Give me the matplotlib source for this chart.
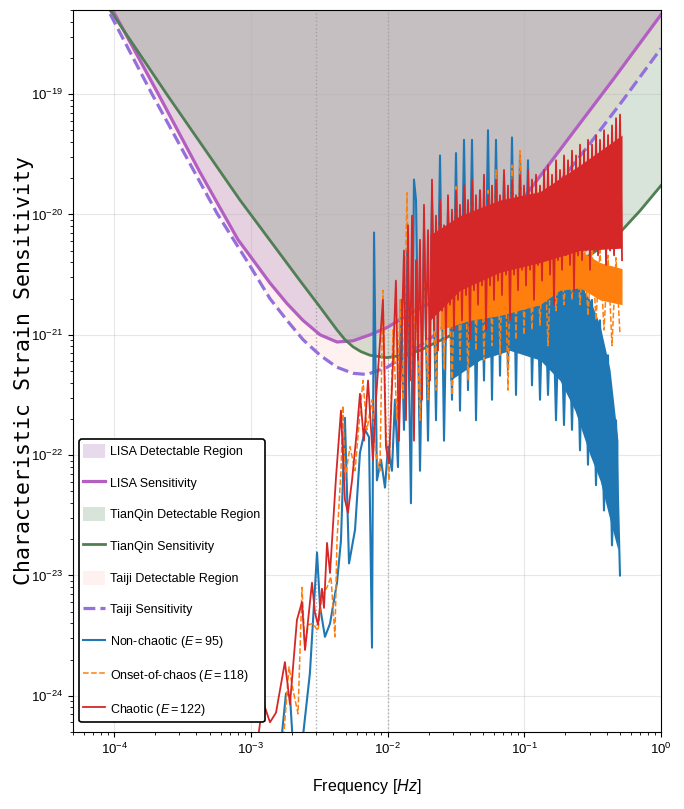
import numpy as np
import matplotlib
matplotlib.use('Agg')
import matplotlib.pyplot as plt
from matplotlib.ticker import NullFormatter

plt.rcParams['font.family'] = ['Liberation Sans', 'DejaVu Sans']
plt.rcParams['mathtext.fontset'] = 'custom'
plt.rcParams['mathtext.rm'] = 'Liberation Sans'
plt.rcParams['mathtext.it'] = 'Liberation Sans:italic'
plt.rcParams['mathtext.bf'] = 'Liberation Sans:bold'

# detector sensitivity curves (log10 f [Hz], log10 h_c)
lisa_logf = [-4.301, -4.012, -3.672, -3.372, -3.094, -2.970, -2.860, -2.736, -2.619, -2.494,
             -2.370, -2.253, -2.128, -2.004, -1.887, -1.763, -1.638, -1.470, -1.287, -1.105,
             -0.936, -0.644, -0.351, 0.0]
lisa_logh = [-17.65, -18.30, -19.01, -19.65, -20.21, -20.40, -20.57, -20.74, -20.88, -21.00,
             -21.06, -21.05, -21.00, -20.94, -20.86, -20.78, -20.71, -20.53, -20.30, -20.01,
             -19.76, -19.32, -18.88, -18.34]

tianqin_logf = [-4.301, -4.031, -3.616, -3.080, -2.641, -2.494, -2.370, -2.312, -2.253, -2.195,
                -2.129, -2.070, -2.004, -1.887, -1.763, -1.639, -1.397, -1.178, -0.936, -0.666,
                -0.446, -0.300, -0.154, 0.0]
tianqin_logh = [-17.84, -18.30, -19.00, -19.88, -20.55, -20.77, -20.96, -21.04, -21.10, -21.14,
                -21.17, -21.18, -21.19, -21.17, -21.13, -21.06, -20.93, -20.80, -20.63, -20.45,
                -20.28, -20.15, -19.97, -19.76]

taiji_logf = [-4.301, -4.045, -3.723, -3.248, -3.021, -2.860, -2.736, -2.619, -2.494, -2.370,
              -2.253, -2.151, -2.004, -1.887, -1.763, -1.639, -1.287, -0.936, -0.519, -0.278, 0.0]
taiji_logh = [-17.75, -18.30, -19.00, -19.99, -20.40, -20.70, -20.88, -21.04, -21.17, -21.27,
              -21.32, -21.33, -21.27, -21.19, -21.09, -20.99, -20.56, -20.01, -19.41, -19.05, -18.62]

# characteristic strain of the three orbits: sparse low-frequency part
blue_logf = [-2.772, -2.743, -2.714, -2.692, -2.626, -2.568, -2.516, -2.494, -2.458, -2.421,
             -2.370, -2.341, -2.312, -2.282, -2.238, -2.202, -2.165, -2.136, -2.114, -2.099,
             -2.078, -2.048, -2.019, -1.997, -1.968, -1.946, -1.924, -1.902, -1.880, -1.858,
             -1.829, -1.807]
blue_logh = [-24.31, -23.98, -24.00, -24.41, -24.41, -23.81, -22.81, -23.26, -23.51, -23.40,
             -23.06, -22.71, -21.69, -22.90, -22.62, -21.98, -21.79, -21.85, -23.60, -20.15,
             -22.21, -22.04, -22.27, -21.93, -22.13, -21.54, -22.10, -20.71, -21.79, -20.30,
             -22.40, -19.71]

orange_logf = [-2.765, -2.721, -2.692, -2.655, -2.626, -2.604, -2.582, -2.546, -2.509, -2.480,
               -2.443, -2.414, -2.385, -2.370, -2.341, -2.326, -2.312, -2.275, -2.238, -2.202,
               -2.180, -2.151, -2.114, -2.085, -2.056, -2.034, -2.012, -1.990, -1.960, -1.931,
               -1.909, -1.887, -1.858, -1.836]
orange_logh = [-24.41, -23.76, -23.95, -24.15, -23.10, -23.62, -23.41, -23.40, -23.46, -23.16,
               -23.10, -23.01, -23.51, -22.71, -22.13, -21.59, -22.21, -21.93, -22.13, -21.65,
               -21.38, -21.79, -21.54, -22.00, -22.13, -20.63, -21.79, -22.21, -20.96, -21.71,
               -20.71, -21.54, -19.82, -21.38]

red_logf = [-2.955, -2.911, -2.860, -2.816, -2.751, -2.714, -2.663, -2.626, -2.604, -2.553,
            -2.531, -2.509, -2.480, -2.465, -2.443, -2.421, -2.377, -2.341, -2.312, -2.290,
            -2.260, -2.224, -2.202, -2.173, -2.143, -2.107, -2.085, -2.034, -2.012, -1.990,
            -1.960, -1.939, -1.917, -1.895]
red_logh = [-24.41, -24.05, -24.22, -24.14, -23.72, -24.07, -23.37, -23.22, -23.62, -23.06,
            -23.31, -23.41, -23.11, -23.27, -22.73, -22.98, -22.18, -21.63, -22.37, -22.48,
            -22.21, -21.79, -21.49, -21.88, -21.38, -22.04, -21.54, -20.71, -21.93, -22.07,
            -21.21, -20.55, -21.88, -20.96]

# dense high-frequency part, on evenly spaced log-frequency bins
blue_dense_range = (-1.792, -0.300)
blue_dense_logh = [-19.88, -22.13, -20.13, -21.88, -19.88, -21.71, -19.51, -21.88, -19.96, -21.54,
                   -19.49, -21.63, -19.38, -21.46, -19.38, -21.71, -19.80, -21.38, -19.30, -21.54,
                   -19.38, -21.34, -19.67, -21.29, -19.36, -21.50, -19.51, -21.09, -19.55, -21.42,
                   -20.13, -21.54, -20.30, -21.50, -20.38, -21.71, -20.46, -21.75, -20.45, -21.79,
                   -20.48, -21.96, -20.55, -22.08, -20.71, -22.25, -20.88, -22.46, -21.17, -22.75,
                   -21.71, -23.00]
orange_dense_range = (-1.792, -0.300)
orange_dense_logh = [-20.71, -21.71, -20.38, -21.54, -20.13, -21.46, -19.88, -21.29, -20.01, -21.50,
                     -19.76, -21.21, -19.96, -21.38, -19.71, -21.13, -19.88, -21.21, -19.80, -21.09,
                     -19.63, -21.17, -19.92, -21.46, -19.59, -21.04, -19.47, -21.00, -20.01, -20.96,
                     -20.09, -20.92, -20.13, -21.09, -20.17, -20.80, -20.20, -20.75, -20.21, -20.71,
                     -20.20, -20.75, -20.21, -20.84, -20.26, -20.88, -20.30, -20.96, -20.34, -21.09,
                     -20.36, -21.00]
# chaotic orbit: bin-by-bin peaks and troughs (they alternate)
red_dense_range = (-1.880, -0.285)
red_dense_peaks = [-20.30, -20.09, -20.01, -20.38, -20.21, -19.92, -20.13, -19.71, -20.01, -19.88,
                   -20.09, -19.84, -19.96, -19.80, -19.92, -19.76, -19.88, -19.71, -19.84, -19.80,
                   -19.67, -19.84, -19.76, -19.71, -19.84, -19.63, -19.76, -19.71, -19.84, -19.67,
                   -19.76, -19.63, -19.71, -19.67, -19.76, -19.63, -19.59, -19.67, -19.55, -19.63,
                   -19.51, -19.55, -19.47, -19.51, -19.42, -19.47, -19.38, -19.42, -19.34, -19.38,
                   -19.30, -19.34, -19.26, -19.20, -19.17]
red_dense_troughs = [-21.71, -21.38, -21.88, -21.21, -21.54, -21.04, -21.38, -20.96, -21.13, -20.80,
                     -21.04, -20.75, -20.96, -20.71, -20.88, -20.67, -21.04, -20.63, -20.75, -20.59,
                     -20.96, -20.59, -20.71, -20.55, -20.67, -20.50, -20.88, -20.50, -20.63, -20.46,
                     -20.59, -20.46, -20.71, -20.42, -20.55, -20.38, -20.50, -20.75, -20.38, -20.46,
                     -20.34, -20.42, -20.63, -20.34, -20.38, -20.30, -20.46, -20.30, -20.34, -20.26,
                     -20.42, -20.30, -20.34, -20.26, -20.38]

# solid core of the dense spectra (lower / upper envelope)
blue_band_logf = [-1.544, -1.324, -1.105, -0.885, -0.739, -0.629, -0.519, -0.446, -0.373, -0.315]
blue_band_hi = [-20.88, -20.71, -20.63, -20.59, -20.55, -20.53, -20.71, -20.92, -21.29, -21.88]
blue_band_lo = [-21.38, -21.21, -21.13, -21.21, -21.38, -21.63, -22.00, -22.21, -22.54, -22.79]
orange_band_logf = [-1.617, -1.397, -1.178, -0.885, -0.739, -0.593, -0.446, -0.285]
orange_band_hi = [-20.71, -20.46, -20.34, -20.30, -20.30, -20.30, -20.40, -20.45]
orange_band_lo = [-20.96, -20.88, -20.84, -20.75, -20.63, -20.61, -20.71, -20.75]
red_band_logf = [-1.690, -1.470, -1.178, -0.885, -0.593, -0.285]
red_band_hi = [-20.17, -20.01, -19.88, -19.81, -19.59, -19.34]
red_band_lo = [-20.88, -20.63, -20.48, -20.40, -20.30, -20.28]

marker_freqs = [3e-3, 1e-2]
x_ticks = [1e-4, 1e-3, 1e-2, 1e-1, 1e0]
y_ticks = [1e-24, 1e-23, 1e-22, 1e-21, 1e-20, 1e-19]


def to_lin(a):
    return 10.0 ** np.asarray(a)


def spectrum(logf, logh, rng, dense):
    f = np.concatenate([to_lin(logf), np.logspace(rng[0], rng[1], len(dense))])
    h = np.concatenate([to_lin(logh), to_lin(dense)])
    return f, h


fig = plt.figure(figsize=(6.84, 8.09), dpi=100)
ax = fig.add_axes([73 / 684, 1 - 732 / 809, 588 / 684, 722 / 809])

top = 1e-17
lisa_col, tq_col, tj_col = '#b35fc2', '#4f7f52', '#9370db'

h_tj_fill = ax.fill_between(to_lin(taiji_logf), to_lin(taiji_logh), top, color='mistyrose',
                            alpha=0.5, lw=0, zorder=1)
h_lisa_fill = ax.fill_between(to_lin(lisa_logf), to_lin(lisa_logh), top, color='#af87c3',
                              alpha=0.3, lw=0, zorder=1)
h_tq_fill = ax.fill_between(to_lin(tianqin_logf), to_lin(tianqin_logh), top, color='#508255',
                            alpha=0.22, lw=0, zorder=1)
h_lisa, = ax.plot(to_lin(lisa_logf), to_lin(lisa_logh), color=lisa_col, lw=2.3, zorder=2)
h_tq, = ax.plot(to_lin(tianqin_logf), to_lin(tianqin_logh), color=tq_col, lw=2.0, zorder=2)
h_tj, = ax.plot(to_lin(taiji_logf), to_lin(taiji_logh), color=tj_col, lw=2.3, ls='--', zorder=2)

for fm in marker_freqs:
    ax.axvline(fm, color='#999999', ls=':', lw=1.0, alpha=0.8, zorder=1.5)

# spectra
f, h = spectrum(blue_logf, blue_logh, blue_dense_range, blue_dense_logh)
h_blue, = ax.plot(f, h, color='#1f77b4', lw=1.5, zorder=3)
ax.fill_between(to_lin(blue_band_logf), to_lin(blue_band_lo), to_lin(blue_band_hi),
                color='#1f77b4', lw=0, zorder=3)

f, h = spectrum(orange_logf, orange_logh, orange_dense_range, orange_dense_logh)
h_orange, = ax.plot(f, h, color='#ff7f0e', lw=1.1, ls='--', zorder=3.1)
ax.fill_between(to_lin(orange_band_logf), to_lin(orange_band_lo), to_lin(orange_band_hi),
                color='#ff7f0e', lw=0, zorder=3.1)

red_dense = np.column_stack([red_dense_peaks, red_dense_troughs]).ravel()
f, h = spectrum(red_logf, red_logh, red_dense_range, red_dense)
h_red, = ax.plot(f, h, color='#d62728', lw=1.3, zorder=3.2)
ax.fill_between(to_lin(red_band_logf), to_lin(red_band_lo), to_lin(red_band_hi),
                color='#d62728', lw=0, zorder=3.2)

ax.set_xscale('log')
ax.set_yscale('log')
ax.set_xticks(x_ticks)
ax.set_yticks(y_ticks)
ax.set_xlim(5e-5, 1.0)
ax.set_ylim(5e-25, 5e-19)
ax.xaxis.set_minor_formatter(NullFormatter())
ax.yaxis.set_minor_formatter(NullFormatter())
ax.grid(True, which='major', color='#b0b0b0', alpha=0.3, lw=0.8)
ax.tick_params(labelsize=9.5)
ax.tick_params(which='minor', labelleft=False, labelbottom=False)

ax.set_xlabel('Frequency [$Hz$]', fontsize=11.5)
ax.set_ylabel('Characteristic Strain Sensitivity', fontsize=15.5, family='DejaVu Sans Mono')
ax.yaxis.set_label_coords(-0.0663, 0.5)
ax.xaxis.set_label_coords(0.5, -0.062)

handles = [h_lisa_fill, h_lisa, h_tq_fill, h_tq, h_tj_fill, h_tj, h_blue, h_orange, h_red]
labels = ['LISA Detectable Region', 'LISA Sensitivity', 'TianQin Detectable Region',
          'TianQin Sensitivity', 'Taiji Detectable Region', 'Taiji Sensitivity',
          r'Non-chaotic ($E = 95$)', r'Onset-of-chaos ($E = 118$)', r'Chaotic ($E = 122$)']
leg = ax.legend(handles, labels, loc='lower left', bbox_to_anchor=(6 / 588, 10 / 722),
                borderaxespad=0, prop={'family': 'Liberation Sans', 'size': 9},
                handlelength=1.7, handleheight=1.36, handletextpad=0.45, borderpad=0.35,
                labelspacing=1.4, framealpha=1, edgecolor='black')
leg.get_frame().set_linewidth(1.2)
leg.set_zorder(5)

plt.savefig('out.png', dpi=100)
